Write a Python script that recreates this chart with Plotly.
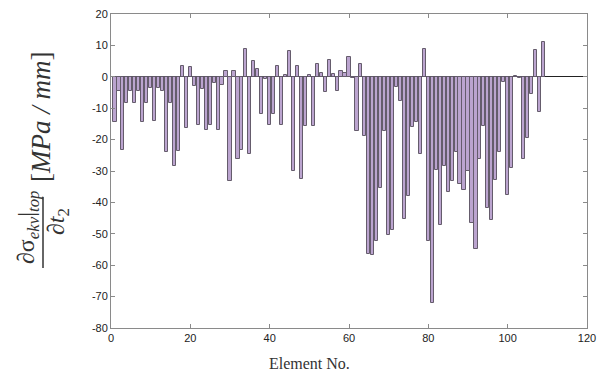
import plotly.graph_objects as go

# ---- data ----
elements = list(range(1, 110))
values = [
    -14.3, -4.5, -23.3, -8.5, -4.5, -8.5, -4.5, -14.3, -8.5, -3.5,
    -14.0, -3.5, -4.5, -24.0, -8.2, -28.4, -23.7, 3.4, -16.3, 3.0,
    -3.0, -15.3, -4.0, -16.8, -15.3, -2.0, -16.8, -2.6, 2.0, -33.2,
    1.8, -26.3, -23.2, 8.9, -24.5, 4.9, 2.5, -11.9, -0.8, -15.3,
    -11.9, 3.4, -15.2, 0.5, 8.1, -30.0, 3.4, -32.6, -15.7, 0.6,
    -15.8, 4.1, 1.3, -4.8, 5.5, 0.8, -4.5, 1.9, 1.3, 6.3,
    -0.5, -17.4, 4.1, -18.7, -56.4, -56.8, -52.2, -35.4, -17.3, -50.3,
    -48.7, -3.2, -7.6, -45.4, -37.9, -15.9, -14.5, -24.5, 8.7, -52.4,
    -72.0, -29.7, -47.2, -28.3, -36.6, -33.3, -24.0, -34.0, -36.0, -30.0,
    -46.4, -54.8, -26.3, -15.6, -41.7, -45.6, -33.0, -23.8, -1.5, -37.7,
    -29.0, 0.4, -0.5, -26.3, -19.6, -5.6, 8.6, -11.2, 11.2,
]
x_ticks = [0, 20, 40, 60, 80, 100, 120]
y_ticks = [20, 10, 0, -10, -20, -30, -40, -50, -60, -70, -80]
y_tick_text = ["20", "10", "0", "-10", "-20", "-30", "-40", "-50", "-60", "-70", "-80"]
x_title = "Element No."

# page body has an 8px margin; compensate so the plot box sits where the reference has it
OFF = 8
W, H = 607 - OFF, 377 - OFF
L, R, T, B = 111 - OFF, 20, 14 - OFF, 49
PW, PH = W - L - R, H - T - B


def px(xp):
    return (xp - OFF - L) / PW


def py(yp):
    return (H - B - (yp - OFF)) / PH


fig = go.Figure()
fig.add_trace(go.Bar(
    x=elements, y=values, width=0.8,
    marker=dict(color="#bba4cf", line=dict(color="#655c6c", width=1)),
    showlegend=False,
))

axis_common = dict(
    showline=True, linecolor="#8a8a8a", linewidth=1, mirror="allticks",
    ticks="inside", ticklen=4, tickcolor="#8a8a8a", showgrid=False,
    automargin=False, ticklabeloverflow="allow",
    tickfont=dict(family="Liberation Sans, Arial", size=11, color="#222222"),
)

fig.update_layout(
    width=W, height=H,
    margin=dict(l=L, r=R, t=T, b=B),
    paper_bgcolor="white", plot_bgcolor="white",
    bargap=0,
    xaxis=dict(range=[0, 120], tickvals=x_ticks, zeroline=False, **axis_common),
    yaxis=dict(range=[-80, 20], tickvals=y_ticks, ticktext=y_tick_text,
               zeroline=True, zerolinecolor="#222222", zerolinewidth=1,
               **axis_common),
)

serif = "Liberation Serif, Times New Roman"
# x-axis title (placed left of centre, as in the reference)
fig.add_annotation(
    xref="paper", yref="paper", x=px(309), y=py(363), text=x_title,
    showarrow=False, font=dict(family=serif, size=16, color="#333333"),
    xanchor="center", yanchor="middle",
)
# y-axis label built as a rotated fraction
fig.add_annotation(
    xref="paper", yref="paper", x=px(28), y=py(228), textangle=-90,
    text="∂σ<sub><i>ekv</i></sub>|<sub><i>top</i></sub>", showarrow=False,
    font=dict(family=serif, size=24, color="#333333"),
    xanchor="center", yanchor="middle",
)
fig.add_annotation(
    xref="paper", yref="paper", x=px(58), y=py(222), textangle=-90,
    text="∂<i>t</i><sub>2</sub>", showarrow=False,
    font=dict(family=serif, size=24, color="#333333"),
    xanchor="center", yanchor="middle",
)
fig.add_annotation(
    xref="paper", yref="paper", x=px(41), y=py(117), textangle=-90,
    text="[<i>MPa / mm</i>]", showarrow=False,
    font=dict(family=serif, size=27, color="#333333"),
    xanchor="center", yanchor="middle",
)
fig.add_shape(
    type="line", xref="paper", yref="paper",
    x0=px(43), x1=px(43), y0=py(197), y1=py(268),
    line=dict(color="#333333", width=1.5),
)

fig.write_html("out.html")
